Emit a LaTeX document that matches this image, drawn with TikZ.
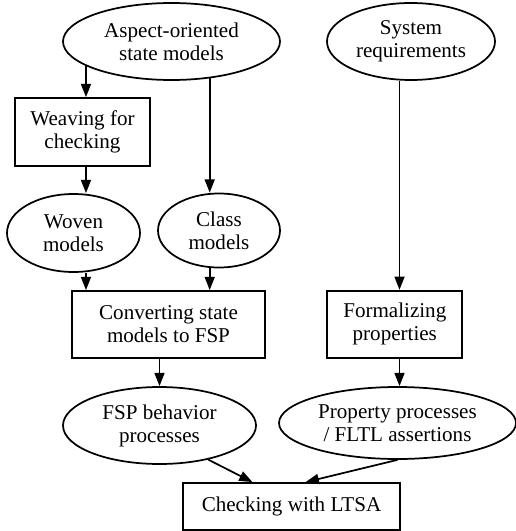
\documentclass[tikz,border=0pt]{standalone}
\usepackage{fontspec}
\setmainfont{Liberation Serif}
\usepackage{tikz}
\usetikzlibrary{shapes.geometric, arrows.meta}

\newcommand{\boxfont}{\fontsize{15.8}{17.25}\selectfont}
\tikzset{
  oval/.style={ellipse, draw, line width=1.3pt, inner sep=0pt, align=center, font=\boxfont},
  proc/.style={rectangle, draw, line width=1.3pt, inner sep=0pt, align=center, font=\boxfont},
  flow/.style={line width=1.3pt, -{Triangle[length=10pt,width=7.5pt]}}
}

\begin{document}
\begin{tikzpicture}[x=0.75pt,y=0.75pt,yscale=-1,xscale=1]
        \useasboundingbox (0,0) rectangle (516,531);

        %Shape: Ellipse
        \draw (171.5,41.5) node [oval, minimum width=162.75pt, minimum height=57.75pt] (aspect) {Aspect-oriented\\state models};
        %Shape: Ellipse
        \draw (411,41.5) node [oval, minimum width=126pt, minimum height=57.75pt] (sysreq) {System\\requirements};
        %Shape: Rectangle
        \draw (82.5,132) node [proc, minimum width=101.25pt, minimum height=51pt] (weave) {Weaving for\\checking};
        %Shape: Ellipse
        \draw (73.5,233) node [oval, minimum width=99.75pt, minimum height=58.5pt] (woven) {Woven\\models};
        %Shape: Ellipse
        \draw (219,230.5) node [oval, minimum width=91.5pt, minimum height=55.5pt] (class) {Class\\models};
        %Shape: Rectangle
        \draw (168.5,324.5) node [proc, minimum width=144.75pt, minimum height=50.25pt] (convert) {Converting state\\models to FSP};
        %Shape: Rectangle
        \draw (394.8,324.2) node [proc, minimum width=101.25pt, minimum height=50.25pt] (formal) {Formalizing\\properties};
        %Shape: Ellipse
        \draw (159.5,425.5) node [oval, minimum width=144.75pt, minimum height=57.75pt] (fsp) {FSP behavior\\processes};
        %Shape: Ellipse
        \draw (397.5,423) node [oval, minimum width=177.75pt, minimum height=54pt] (prop) {Property processes\\/ FLTL assertions};
        %Shape: Rectangle
        \draw (291.5,506.5) node [proc, minimum width=162.75pt, minimum height=35.25pt] (check) {Checking with LTSA};

        % columns of the vertical arrows
        \coordinate (rcol) at (399.5,0);

        % Arrows
        \draw [flow] (aspect.196) -- (aspect.196 |- weave.north);
        \draw [flow] (aspect.316) -- (aspect.316 |- class.north);
        \draw [flow] (weave.south -| aspect.196) -- (woven.north -| aspect.196);
        \draw [flow] (woven.south -| aspect.196) -- (convert.north -| aspect.196);
        \draw [flow] (class.south -| aspect.316) -- (convert.north -| aspect.316);
        \draw [flow] (sysreq.south -| rcol) -- (formal.north -| rcol);
        \draw [flow] (convert.south -| fsp.north) -- (fsp.north);
        \draw [flow] (formal.south -| rcol) -- (prop.north -| rcol);
        \draw [flow] (fsp.325) -- (check.148.6);
        \draw [flow] (prop.south) -- (check.60);

\end{tikzpicture}
\end{document}
